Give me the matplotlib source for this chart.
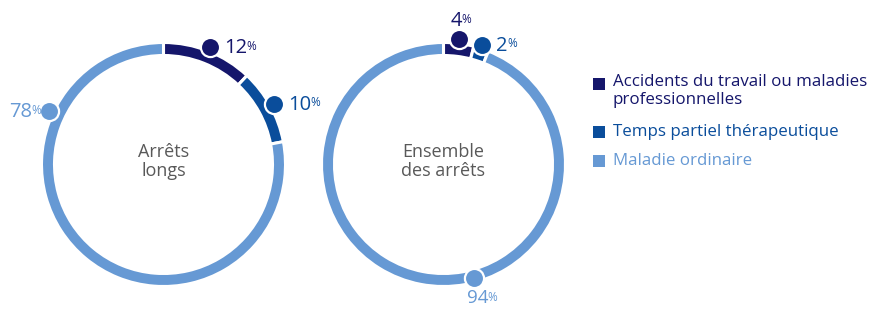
import numpy as np
import matplotlib
matplotlib.use("Agg")
import matplotlib.pyplot as plt

plt.rcParams['font.family'] = ['Open Sans', 'DejaVu Sans']

# data
categories = ["Accidents du travail ou maladies\nprofessionnelles",
              "Temps partiel thérapeutique",
              "Maladie ordinaire"]
titles = ["Arrêts\nlongs", "Ensemble\ndes arrêts"]
arrets_longs = [12, 10, 78]
ensemble = [4, 2, 94]
series = [arrets_longs, ensemble]

colors = ['#15166b', '#0a4d9b', '#6699d4']

# layout (pixel space, y up)
W, H = 870, 309
centers = [(163.5, H - 164.5), (443.5, H - 164.5)]
R = 122
ring_w = 13
# angle (deg, clockwise from top) for the big slice labels; None -> slice middle
label_angle = [[None, None, 295], [None, None, 165]]
label_r = [[126, 126, 126], [126, 126, 118]]
# label side: 'r' right, 'l' left, 't' above, 'b' below
label_side = [['r', 'r', 'l'], ['t', 'r', 'b']]

fig = plt.figure(figsize=(W / 100, H / 100), dpi=100)
ax = fig.add_axes([0, 0, 1, 1])

for k, vals in enumerate(series):
    c = centers[k]
    ax.pie(vals, colors=colors, startangle=90, counterclock=False,
           center=c, radius=R,
           wedgeprops=dict(width=ring_w, edgecolor='white', linewidth=2.2))
    ax.text(c[0], c[1] + 3, titles[k], ha='center', va='center',
            fontsize=13, color='#595959', linespacing=1.1)

    total = float(sum(vals))
    start = 0.0
    for i, v in enumerate(vals):
        a = label_angle[k][i]
        if a is None:
            a = (start + v / 2) / total * 360
        start += v
        t = np.radians(a)
        x = c[0] + label_r[k][i] * np.sin(t)
        y = c[1] + label_r[k][i] * np.cos(t)
        ax.scatter([x], [y], s=190, color=colors[i], edgecolor='white',
                   linewidth=1.6, zorder=5)
        side = label_side[k][i]
        fs = 14.5
        if side == 'r':
            off, ha, va = (14, -1), 'left', 'center'
        elif side == 'l':
            off, ha, va = (-17, -1), 'right', 'center'
        elif side == 't':
            off, ha, va = (-3, 8), 'center', 'bottom'
        else:
            off, ha, va = (4, -25), 'center', 'baseline'
            fs = 13.5
        num = ax.annotate(str(v), xy=(x, y), xytext=off, textcoords='offset pixels',
                          ha=ha, va=va, fontsize=fs, color=colors[i], zorder=6)
        ax.annotate('%', xy=(1, 0.93), xycoords=num, xytext=(-1, 0),
                    textcoords='offset pixels', ha='left', va='top',
                    fontsize=8.5, color=colors[i], zorder=6)

# legend
leg_y = [H - 83.5, H - 132, H - 161]
for i, lab in enumerate(categories):
    ax.scatter([599], [leg_y[i]], marker='s', s=85, color=colors[i], linewidth=0)
    if '\n' in lab:
        ax.text(613, leg_y[i] + 9.5, lab, ha='left', va='top', fontsize=12.2,
                color=colors[i], linespacing=1.15)
    else:
        ax.text(613, leg_y[i], lab, ha='left', va='center', fontsize=12.2,
                color=colors[i])

ax.set_xlim(0, W)
ax.set_ylim(0, H)
ax.set_aspect('equal')
ax.axis('off')

fig.savefig('out.png', dpi=100)
